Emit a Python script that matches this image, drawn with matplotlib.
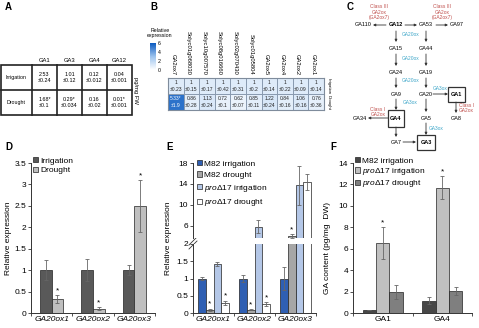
import numpy as np
import matplotlib

matplotlib.use("Agg")
import matplotlib.pyplot as plt
from matplotlib.colors import LinearSegmentedColormap
from matplotlib.patches import Patch, Rectangle

plt.rcParams["font.family"] = ["Liberation Sans", "DejaVu Sans"]
plt.rcParams["mathtext.fontset"] = "custom"
plt.rcParams["mathtext.rm"] = "Liberation Sans"
plt.rcParams["mathtext.it"] = "Liberation Sans:italic"

W, H = 479, 328

# --- A: GA levels (pg/mg FW)
ga_names = ["GA1", "GA3", "GA4", "GA12"]
ga_irrigation = [2.53, 1.01, 0.12, 0.04]
ga_irrigation_err = [0.24, 0.12, 0.012, 0.001]
ga_drought = [1.68, 0.29, 0.16, 0.01]
ga_drought_err = [0.1, 0.034, 0.02, 0.001]
ga_drought_sig = [True, True, False, True]

# --- B: GA2ox family expression
b_genes = ["GA2ox7", "Solyc01g068030", "Solyc10g007570", "Solyc08g016660",
           "Solyc02g070430", "Solyc01g05804", "GA2ox5", "GA2ox4", "GA2ox2", "GA2ox1"]
b_irrigation = [1, 1, 1, 1, 1, 1, 1, 1, 1, 1]
b_irrigation_err = [0.23, 0.15, 0.17, 0.42, 0.31, 0.2, 0.14, 0.22, 0.09, 0.14]
b_drought = [5.33, 0.86, 1.13, 0.72, 0.62, 0.85, 1.22, 0.84, 1.06, 0.76]
b_drought_err = [1.9, 0.28, 0.24, 0.1, 0.07, 0.11, 0.24, 0.16, 0.16, 0.36]
b_drought_sig = [True, False, False, False, False, False, False, False, False, False]

# --- D: GA20ox in M82
d_genes = ["GA20ox1", "GA20ox2", "GA20ox3"]
d_irrigation = [1.0, 1.0, 1.0]
d_irrigation_err = [0.24, 0.25, 0.11]
d_drought = [0.33, 0.10, 2.50]
d_drought_err = [0.09, 0.03, 0.60]
d_drought_sig = [True, True, True]

# --- E: GA20ox in M82 and proD17
e_genes = ["GA20ox1", "GA20ox2", "GA20ox3"]
e_m82_irr = [1.0, 1.0, 1.0]
e_m82_irr_err = [0.04, 0.10, 0.32]
e_m82_dro = [0.10, 0.10, 4.0]
e_m82_dro_err = [0.03, 0.02, 0.4]
e_m82_dro_sig = [True, True, True]
e_pro_irr = [1.42, 5.8, 13.7]
e_pro_irr_err = [0.06, 1.3, 3.7]
e_pro_dro = [0.30, 0.27, 14.4]
e_pro_dro_err = [0.06, 0.06, 1.5]
e_pro_dro_sig = [True, True, False]

# --- F: GA content (pg/mg DW)
f_names = ["GA1", "GA4"]
f_m82_irr = [0.25, 1.15]
f_m82_irr_err = [0.0, 0.30]
f_pro_irr = [6.5, 11.7]
f_pro_irr_err = [1.5, 1.05]
f_pro_irr_sig = [True, True]
f_pro_dro = [1.95, 2.05]
f_pro_dro_err = [0.65, 0.35]

PRO = r"$\mathit{pro}\Delta\mathit{17}$"
RED = "#c0504d"
CYAN = "#3fa7c9"
AXC = "#333333"
ERRC = "#666666"


def px_axes(fig, x0, y0, x1, y1):
    return fig.add_axes([x0 / W, 1 - y1 / H, (x1 - x0) / W, (y1 - y0) / H])


def style_bar_axes(ax):
    for side in ("top", "right"):
        ax.spines[side].set_visible(False)
    for side in ("left", "bottom"):
        ax.spines[side].set_color(AXC)
        ax.spines[side].set_linewidth(0.7)
    ax.tick_params(axis="y", direction="out", length=2, width=0.6, labelsize=6, pad=1.5, colors=AXC)
    ax.tick_params(axis="y", labelcolor="black")


def cat_ticks(ax, n, labels, italic=True):
    ax.set_xlim(-0.5, n - 0.5)
    ax.set_xticks(range(n))
    ax.set_xticklabels(labels, fontsize=6, style="italic" if italic else "normal")
    ax.tick_params(axis="x", which="major", length=0, pad=2)
    ax.set_xticks(np.arange(-0.5, n), minor=True)
    ax.tick_params(axis="x", which="minor", direction="out", length=2, width=0.6, colors=AXC)


def bars(ax, x, vals, errs, color, width):
    ax.bar(x, vals, width, color=color, edgecolor="#222222", linewidth=0.5, zorder=2)
    ax.errorbar(x, vals, yerr=errs, fmt="none", ecolor=ERRC, elinewidth=0.6,
                capsize=1.5, capthick=0.6, zorder=3)


def stars(ax, x, vals, errs, sig):
    for xi, v, e, s in zip(x, vals, errs, sig):
        if s:
            ax.annotate("*", xy=(xi, v + e), xytext=(0, 0.5), textcoords="offset points",
                        ha="center", va="bottom", fontsize=6)


fig = plt.figure(figsize=(W / 100, H / 100), dpi=100)
ax0 = fig.add_axes([0, 0, 1, 1])
ax0.set_xlim(0, W)
ax0.set_ylim(H, 0)
ax0.axis("off")

for lab, (lx, ly) in zip("ABCDEF", [(5, 7), (150, 7), (347, 7), (5, 147), (166, 147), (330, 147)]):
    ax0.text(lx, ly, lab, fontsize=7, fontweight="bold", ha="left", va="center")

# ---------------- A: table
tx0, col0, colw = 1, 32, 25
ty = [65, 90, 115]
for j, name in enumerate(ga_names):
    ax0.text(col0 + colw * (j + 0.5), 60, name, fontsize=4.2, ha="center", va="center")
rows = [("Irrigation", ga_irrigation, ga_irrigation_err, [False] * 4),
        ("Drought", ga_drought, ga_drought_err, ga_drought_sig)]
for i, (rname, vals, errs, sig) in enumerate(rows):
    yc = (ty[i] + ty[i + 1]) / 2
    ax0.text((tx0 + col0) / 2, yc, rname, fontsize=3.8, ha="center", va="center")
    for j, (v, e, s) in enumerate(zip(vals, errs, sig)):
        ax0.text(col0 + colw * (j + 0.5), yc, f"{v:g}{'*' if s else ''}\n\u00b1{e:g}",
                 fontsize=3.9, ha="center", va="center", linespacing=1.3)
ax0.add_patch(Rectangle((tx0, ty[0]), col0 + 4 * colw - tx0, ty[2] - ty[0],
                        fill=False, lw=1.2, ec="#222222"))
ax0.plot([tx0, col0 + 4 * colw], [ty[1], ty[1]], color="#222222", lw=1.2)
for j in range(4):
    ax0.plot([col0 + colw * j] * 2, [ty[0], ty[2]], color="#222222", lw=1.2)
ax0.text(136, 90, "pg/mg FW", rotation=-90, fontsize=4.2, ha="center", va="center")

# ---------------- B: heatmap
cmap = LinearSegmentedColormap.from_list("relexp", ["#ffffff", "#9cc3ee", "#0d5bc0"])
hx0, hx1, hy0, hy1 = 168, 324, 78, 110
axh = px_axes(fig, hx0, hy0, hx1, hy1)
hm = np.array([b_irrigation, b_drought], dtype=float)
axh.pcolormesh(hm, cmap=cmap, vmin=0, vmax=6, edgecolors="#8a9bb0", linewidth=0.6)
axh.set_ylim(2, 0)
axh.set_xticks([])
axh.set_yticks([])
for sp in axh.spines.values():
    sp.set_color("#7f8c9c")
    sp.set_linewidth(0.8)
cell_rows = [(b_irrigation, b_irrigation_err, [False] * 10), (b_drought, b_drought_err, b_drought_sig)]
for i, (vals, errs, sig) in enumerate(cell_rows):
    for j, (v, e, s) in enumerate(zip(vals, errs, sig)):
        axh.text(j + 0.5, i + 0.5, f"{v:g}{'*' if s else ''}\n\u00b1{e:g}", fontsize=3.6,
                 ha="center", va="center", linespacing=1.3,
                 color="white" if v > 4 else "#222222")
cw = (hx1 - hx0) / len(b_genes)
for j, g in enumerate(b_genes):
    ax0.text(hx0 + cw * (j + 0.5) - 3, 75, g, rotation=-90, fontsize=4.2,
             ha="center", va="bottom")
hmid = (hy0 + hy1) / 2
ax0.text(329, (hy0 + hmid) / 2, "Irrigation", rotation=-90, fontsize=3.1, ha="center", va="center")
ax0.text(329, (hmid + hy1) / 2, "Drought", rotation=-90, fontsize=3.1, ha="center", va="center")

axc = px_axes(fig, 150, 43, 156, 70)
axc.imshow(np.linspace(6, 0, 64).reshape(-1, 1), cmap=cmap, vmin=0, vmax=6,
           aspect="auto", extent=[0, 1, 0, 6])
axc.set_xticks([])
axc.yaxis.tick_right()
axc.set_yticks([0, 2, 4, 6])
axc.tick_params(axis="y", length=0, labelsize=3.8, pad=1.5)
for sp in axc.spines.values():
    sp.set_visible(False)
ax0.text(160, 33, "Relative\nexpression", fontsize=3.8, ha="center", va="center", linespacing=1.1)

# ---------------- C: biosynthesis pathway
lx, rx = 396, 426
ry = [25, 48, 72, 94, 118, 142]
fs = 4.0


def arrow(x0, y0, x1, y1):
    ax0.annotate("", xy=(x1, y1), xytext=(x0, y0),
                 arrowprops=dict(arrowstyle="-|>", lw=0.6, color="#333333",
                                 mutation_scale=3.5, shrinkA=0, shrinkB=0))


for name, y in zip(["GA12", "GA15", "GA24", "GA9"], ry[:4]):
    ax0.text(lx, y, name, fontsize=fs, ha="center", va="center",
             fontweight="bold" if name == "GA12" else "normal")
for name, y in zip(["GA53", "GA44", "GA19", "GA20", "GA5"], ry[:5]):
    ax0.text(rx, y, name, fontsize=fs, ha="center", va="center")
ax0.text(363, ry[0], "GA110", fontsize=fs, ha="center", va="center")
ax0.text(457, ry[0], "GA97", fontsize=fs, ha="center", va="center")
ax0.text(lx, ry[5], "GA7", fontsize=fs, ha="center", va="center")
ax0.text(360, ry[4], "GA34", fontsize=fs, ha="center", va="center")
ax0.text(456, ry[4], "GA8", fontsize=fs, ha="center", va="center")
for name, (bx0, by0, bx1, by1) in [("GA1", (448, 87, 465, 102)), ("GA4", (388, 110, 404, 127)),
                                   ("GA3", (417, 135, 435, 150))]:
    ax0.add_patch(Rectangle((bx0, by0), bx1 - bx0, by1 - by0, fill=False, lw=0.9, ec="#333333"))
    ax0.text((bx0 + bx1) / 2, (by0 + by1) / 2, name, fontsize=fs, fontweight="bold",
             ha="center", va="center")

arrow(386, ry[0], 373, ry[0])
arrow(405, ry[0], 417, ry[0])
arrow(436, ry[0], 448, ry[0])
for k in range(3):
    arrow(lx, ry[k] + 6, lx, ry[k + 1] - 6)
    arrow(rx, ry[k] + 6, rx, ry[k + 1] - 6)
    ax0.text(411, (ry[k] + ry[k + 1]) / 2 - 2, "GA20ox", fontsize=3.5, color=CYAN, ha="center", va="center")
arrow(lx, ry[3] + 5, lx, 110)
arrow(rx, ry[3] + 5, rx, ry[4] - 6)
ax0.text(410, 103, "GA3ox", fontsize=3.5, color=CYAN, ha="center", va="center")
arrow(433, ry[3], 448, ry[3])
ax0.text(440, 89, "GA3ox", fontsize=3.5, color=CYAN, ha="center", va="center")
arrow(456, 102, 456, 113)
ax0.text(459, 108, "Class I\nGA2ox", fontsize=3.5, color=RED, ha="left", va="center", linespacing=1.1)
arrow(388, ry[4], 368, ry[4])
ax0.text(378, 112, "Class I\nGA2ox", fontsize=3.5, color=RED, ha="center", va="center", linespacing=1.1)
arrow(lx, 127, lx, ry[5] - 5)
arrow(rx, ry[4] + 5, rx, 135)
ax0.text(429, 128, "GA3ox", fontsize=3.5, color=CYAN, ha="left", va="center")
arrow(403, ry[5], 416, ry[5])
for cx in (379, 442):
    ax0.text(cx, 12, "Class III\nGA2ox\n(GA2ox7)", fontsize=3.5, color=RED, ha="center",
             va="center", linespacing=1.1)

# ---------------- D
axd = px_axes(fig, 31, 163, 155, 313)
xd = np.arange(len(d_genes))
wd = 0.28
bars(axd, xd - wd / 2, d_irrigation, d_irrigation_err, "#595959", wd)
bars(axd, xd + wd / 2, d_drought, d_drought_err, "#bfbfbf", wd)
stars(axd, xd + wd / 2, d_drought, d_drought_err, d_drought_sig)
axd.set_ylim(0, 3.5)
axd.set_yticks(np.arange(0, 3.51, 0.5))
axd.set_yticklabels([f"{t:g}" for t in np.arange(0, 3.51, 0.5)])
style_bar_axes(axd)
cat_ticks(axd, 3, d_genes)
axd.legend([Patch(fc="#595959", ec="#222222", lw=0.5), Patch(fc="#bfbfbf", ec="#222222", lw=0.5)],
           ["Irrigation", "Drought"], loc="upper left", bbox_to_anchor=(0.02, 1.04),
           frameon=False, fontsize=6, handlelength=0.6, handleheight=0.6,
           handletextpad=0.25, labelspacing=0.25, borderaxespad=0, borderpad=0)
ax0.text(9, 238, "Relative expression", rotation=90, fontsize=6, ha="center", va="center")

# ---------------- E (broken y axis)
axe_lo = px_axes(fig, 193, 244, 316, 313)
axe_hi = px_axes(fig, 193, 163, 316, 238)
xe = np.arange(len(e_genes))
we = 0.19
e_series = [(e_m82_irr, e_m82_irr_err, "#2f5fb3", [False] * 3),
            (e_m82_dro, e_m82_dro_err, "#a6a6a6", e_m82_dro_sig),
            (e_pro_irr, e_pro_irr_err, "#b4c7e7", [False] * 3),
            (e_pro_dro, e_pro_dro_err, "#ffffff", e_pro_dro_sig)]
for k, (vals, errs, col, sig) in enumerate(e_series):
    xs = xe + (k - 1.5) * we
    for ax in (axe_lo, axe_hi):
        bars(ax, xs, vals, errs, col, we)
    lo = [s and v + e <= 2 for v, e, s in zip(vals, errs, sig)]
    hi = [s and v + e > 2 for v, e, s in zip(vals, errs, sig)]
    stars(axe_lo, xs, vals, errs, lo)
    stars(axe_hi, xs, vals, errs, hi)
axe_lo.set_ylim(0, 2)
axe_lo.set_yticks(np.arange(0, 2.01, 0.5))
axe_lo.set_yticklabels([f"{t:g}" for t in np.arange(0, 2.01, 0.5)])
style_bar_axes(axe_lo)
cat_ticks(axe_lo, 3, e_genes)
axe_hi.set_ylim(3.6, 18)
axe_hi.set_yticks([6, 10, 14, 18])
style_bar_axes(axe_hi)
axe_hi.spines["bottom"].set_visible(False)
axe_hi.set_xlim(-0.5, 2.5)
axe_hi.set_xticks([])
for dy in (0, 4):
    ax0.plot([189, 197], [245 + dy, 237 + dy], color=AXC, lw=0.6)
axe_hi.legend([Patch(fc=c, ec="#222222", lw=0.5) for _, _, c, _ in e_series],
              ["M82 irrigation", "M82 drought", PRO + " irrigation", PRO + " drought"],
              loc="upper left", bbox_to_anchor=(0.03, 1.04), frameon=False, fontsize=6,
              handlelength=0.6, handleheight=0.6, handletextpad=0.25, labelspacing=0.45,
              borderaxespad=0, borderpad=0)
ax0.text(169, 238, "Relative expression", rotation=90, fontsize=6, ha="center", va="center")

# ---------------- F
axf = px_axes(fig, 353, 163, 472, 313)
xf = np.arange(len(f_names))
wf = 0.225
bars(axf, xf - wf, f_m82_irr, f_m82_irr_err, "#474747", wf)
bars(axf, xf, f_pro_irr, f_pro_irr_err, "#c0c0c0", wf)
bars(axf, xf + wf, f_pro_dro, f_pro_dro_err, "#7f7f7f", wf)
stars(axf, xf, f_pro_irr, f_pro_irr_err, f_pro_irr_sig)
axf.set_ylim(0, 14)
axf.set_yticks(range(0, 15, 2))
style_bar_axes(axf)
cat_ticks(axf, 2, f_names, italic=False)
axf.legend([Patch(fc=c, ec="#222222", lw=0.5) for c in ("#474747", "#c0c0c0", "#7f7f7f")],
           ["M82 irrigation", PRO + " irrigation", PRO + " drought"],
           loc="upper left", bbox_to_anchor=(0.02, 1.04), frameon=False, fontsize=6,
           handlelength=0.6, handleheight=0.6, handletextpad=0.25, labelspacing=0.15,
           borderaxespad=0, borderpad=0)
ax0.text(328, 248, "GA content (pg/mg  DW)", rotation=90, fontsize=6, ha="center", va="center")

fig.savefig("out.png", dpi=100)
